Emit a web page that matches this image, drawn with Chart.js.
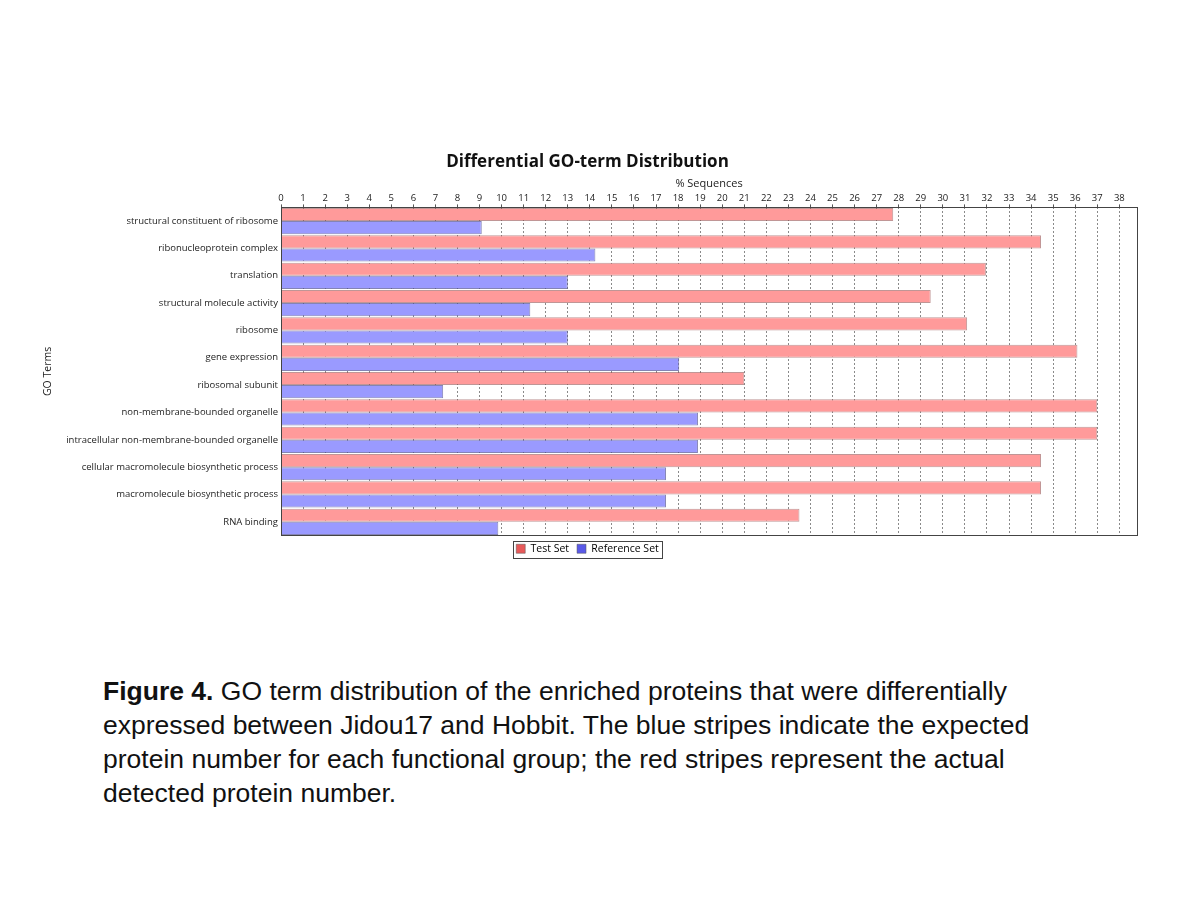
<!DOCTYPE html>
<html>
<head>
<meta charset="utf-8">
<script src="https://cdn.jsdelivr.net/npm/chart.js@4.4.0/dist/chart.umd.min.js"></script>
<style>
  body { margin: 0; background: #fff; }
  #wrap { position: absolute; left: 0; top: 0; width: 1200px; height: 620px; }
  #caption {
    position: absolute; left: 103px; top: 674px; width: 1080px;
    font-family: "Liberation Sans", Arial, sans-serif; font-size: 26.5px;
    line-height: 34px; color: #111;
  }
</style>
</head>
<body>
<div id="wrap"><canvas id="myChart" width="1200" height="620"></canvas></div>
<div id="caption"><b>Figure 4.</b> GO term distribution of the enriched proteins that were differentially<br>expressed between Jidou17 and Hobbit. The blue stripes indicate the expected<br>protein number for each functional group; the red stripes represent the actual<br>detected protein number.</div>
<script>
// GO terms and % sequences
const terms = [
  "structural constituent of ribosome",
  "ribonucleoprotein complex",
  "translation",
  "structural molecule activity",
  "ribosome",
  "gene expression",
  "ribosomal subunit",
  "non-membrane-bounded organelle",
  "intracellular non-membrane-bounded organelle",
  "cellular macromolecule biosynthetic process",
  "macromolecule biosynthetic process",
  "RNA binding"
];
const testSet = [27.75, 34.45, 31.95, 29.45, 31.1, 36.1, 21.0, 37.0, 37.0, 34.45, 34.45, 23.5];
const referenceSet = [9.1, 14.25, 13.0, 11.3, 13.0, 18.05, 7.35, 18.9, 18.9, 17.45, 17.45, 9.85];
const seriesNames = ["Test Set", "Reference Set"];

const FONT = "'Open Sans', 'DejaVu Sans', sans-serif";

// box around plot area and legend, like the original
const boxes = {
  id: 'boxes',
  afterDraw(chart) {
    const c = chart.ctx, a = chart.chartArea;
    c.save();
    c.strokeStyle = '#444';
    c.lineWidth = 1;
    c.strokeRect(Math.round(a.left) + 0.5, Math.round(a.top) + 0.5, Math.round(a.right - a.left), Math.round(a.bottom - a.top));
    const hb = chart.legend.legendHitBoxes;
    if (hb && hb.length) {
      const l = hb[0].left - 3, r = hb[hb.length - 1].left + hb[hb.length - 1].width + 3;
      const t = hb[0].top - 3, b = hb[0].top + hb[0].height + 3;
      c.strokeRect(Math.round(l) + 0.5, Math.round(t) + 0.5, Math.round(r - l), Math.round(b - t));
    }
    c.restore();
  }
};

new Chart(document.getElementById('myChart'), {
  type: 'bar',
  data: {
    labels: terms,
    datasets: [{
      label: seriesNames[0],
      data: testSet,
      backgroundColor: '#ff9a9a',
      borderColor: 'rgba(150,80,80,0.6)',
      borderWidth: 1
    }, {
      label: seriesNames[1],
      data: referenceSet,
      backgroundColor: '#9a9aff',
      borderColor: 'rgba(80,80,150,0.7)',
      borderWidth: 1
    }]
  },
  options: {
    indexAxis: 'y',
    responsive: false,
    animation: false,
    layout: { padding: { left: 38, right: 63, top: 152, bottom: 56 } },
    datasets: { bar: { categoryPercentage: 0.96, barPercentage: 1 } },
    plugins: {
      title: {
        display: true,
        text: 'Differential GO-term Distribution',
        color: '#111',
        font: { family: FONT, size: 17, weight: 'bold', lineHeight: 1.2 },
        padding: { top: 0, bottom: 5 }
      },
      legend: {
        position: 'bottom',
        labels: {
          color: '#222',
          font: { family: FONT, size: 10.5 },
          boxWidth: 9, boxHeight: 9, padding: 8,
          generateLabels: (chart) => seriesNames.map((n, i) => ({
            text: n, fillStyle: i === 0 ? '#e85a5a' : '#5a5ae8',
            strokeStyle: '#555', lineWidth: 0.5, datasetIndex: i
          }))
        }
      },
      tooltip: { enabled: false }
    },
    scales: {
      x: {
        position: 'top',
        min: 0,
        max: 38.8,
        afterBuildTicks: (s) => {
          const n = Math.floor(s.max);
          s.ticks = Array.from({ length: n + 1 }, (_, i) => ({ value: i }));
        },
        afterFit: (s) => { s.height = 30; },
        ticks: { stepSize: 1, color: '#222', font: { family: FONT, size: 9.5 }, padding: 0, maxRotation: 0, autoSkip: false },
        grid: { color: '#8a8a8a', tickLength: 3, tickColor: '#555', drawTicks: true },
        border: { display: false, dash: [2, 2] },
        title: { display: true, text: '% Sequences', color: '#222', font: { family: FONT, size: 11 }, padding: { top: 0, bottom: 0 } }
      },
      y: {
        afterFit: (s) => { s.width = 243; },
        ticks: { color: '#222', font: { family: FONT, size: 9.5 }, padding: -5 },
        grid: { display: false },
        border: { display: false },
        title: { display: true, text: 'GO Terms', color: '#222', font: { family: FONT, size: 10.5 }, padding: { top: 4, bottom: 0 } }
      }
    }
  },
  plugins: [boxes]
});
</script>
</body>
</html>
